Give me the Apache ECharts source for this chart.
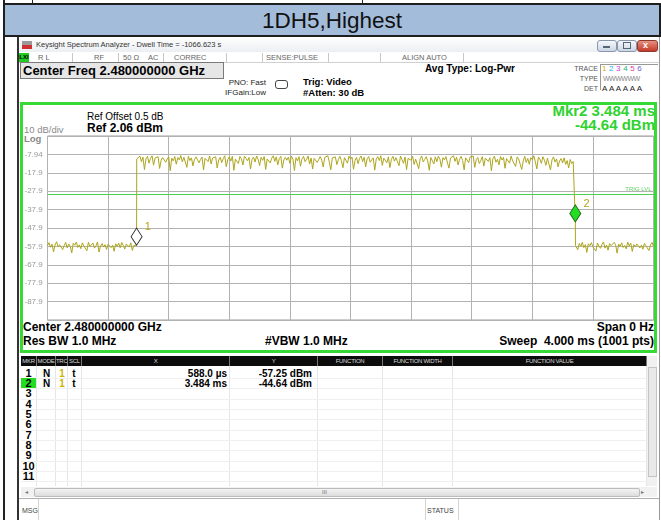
<!DOCTYPE html>
<html>
<head>
<meta charset="utf-8">
<title>1DH5,Highest</title>
<script src="https://cdn.jsdelivr.net/npm/echarts@6.0.0/dist/echarts.min.js"></script>
<style>
  html, body { margin: 0; padding: 0; }
  body { width: 661px; height: 520px; overflow: hidden; position: relative; background: #fff;
         font-family: "Liberation Sans", Arial, sans-serif; color: #000; }
  .a { position: absolute; white-space: nowrap; }
  .b { font-weight: bold; }
  .st { position: absolute; top: 53px; font-size: 7.5px; line-height: 9px; color: #666; white-space: nowrap; }
  .sep { position: absolute; top: 53px; width: 1px; height: 9px; background: #c8c8c8; }
  .btn { position: absolute; top: 40px; width: 18px; height: 10px; border: 1px solid #8797ad; border-radius: 3px;
         background: linear-gradient(#f6f8fb, #ccd6e3); }
  .fr { position: absolute; white-space: nowrap; font-weight: bold; font-size: 12px; line-height: 13px; }
  #chart { position: absolute; left: 0; top: 0; width: 661px; height: 520px; z-index: 5; pointer-events: none; }
</style>
</head>
<body>
<!-- outer frame and title band -->
<div class="a" style="left:3px;top:0;width:2px;height:520px;background:#222"></div>
<div class="a" style="left:32px;top:0;width:1px;height:4px;background:#222"></div>
<div class="a" style="left:362px;top:0;width:1px;height:4px;background:#222"></div>
<div class="a" style="left:3px;top:3px;width:654px;height:30px;background:#a3bcda;border:2px solid #1e1e1e;font-size:22.5px;line-height:31px;text-align:center;color:#111">1DH5,Highest</div>

<!-- analyzer window -->
<div class="a" style="left:17px;top:37px;width:2px;height:483px;background:#333"></div>
<div class="a" style="left:659px;top:37px;width:1px;height:483px;background:#999"></div>
<div class="a" style="left:19px;top:38px;width:640px;height:14px;background:linear-gradient(#fdfdfd,#eceff3)"></div>
<div class="a" style="left:22px;top:41px;width:10px;height:8px;background:linear-gradient(#9a9a9a 0,#9a9a9a 55%,#d03030 55%,#d03030 100%)"></div>
<div class="a" style="left:36px;top:40px;font-size:7.5px;line-height:10px;color:#333">Keysight Spectrum Analyzer - Dwell Time = -1066.623 s</div>
<div class="btn" style="left:597px"></div>
<div class="a" style="left:603px;top:46px;width:7px;height:2px;background:#55657a"></div>
<div class="btn" style="left:617px"></div>
<div class="a" style="left:623px;top:42px;width:6px;height:5px;border:1px solid #55657a"></div>
<div class="btn" style="left:637px;width:19px;border-color:#8a3a30;background:linear-gradient(#e89080,#c43a28)"></div>
<div class="a" style="left:643px;top:39px;font-size:9px;line-height:12px;color:#fff;font-weight:bold">x</div>

<!-- settings status row -->
<div class="a" style="left:19px;top:53px;width:10px;height:9px;background:#22cc22;font-size:6px;line-height:9px;font-weight:bold;text-align:center">LXI</div>
<div class="st" style="left:38px">R L</div>
<div class="sep" style="left:72px"></div>
<div class="st" style="left:94px">RF</div>
<div class="sep" style="left:118px"></div>
<div class="st" style="left:123px">50 &Omega;</div>
<div class="st" style="left:148px">AC</div>
<div class="sep" style="left:163px"></div>
<div class="st" style="left:174px">CORREC</div>
<div class="sep" style="left:226px"></div>
<div class="sep" style="left:262px"></div>
<div class="st" style="left:266px">SENSE:PULSE</div>
<div class="sep" style="left:328px"></div>
<div class="sep" style="left:380px"></div>
<div class="st" style="left:402px">ALIGN AUTO</div>
<div class="sep" style="left:463px"></div>
<div class="a" style="left:19px;top:62px;width:640px;height:1px;background:#d0d0d0"></div>

<!-- measurement settings -->
<div class="a" style="left:20px;top:62px;width:200px;height:15px;background:#e6e6e6;border:1px solid #7a7a7a;font-size:13px;line-height:16px;font-weight:bold;padding-left:2px;box-sizing:content-box">Center Freq 2.480000000 GHz</div>
<div class="a" style="left:224px;top:78px;width:42px;font-size:8px;line-height:10px;text-align:right;color:#222">PNO: Fast</div>
<div class="a" style="left:222px;top:88px;width:44px;font-size:8px;line-height:10px;text-align:right;color:#222">IFGain:Low</div>
<div class="a" style="left:275px;top:80px;width:11px;height:7px;border:1px solid #444;border-radius:3px"></div>
<div class="a" style="left:303px;top:76px;font-size:9.5px;line-height:11px;font-weight:bold">Trig: Video</div>
<div class="a" style="left:303px;top:87px;font-size:9.5px;line-height:11px;font-weight:bold">#Atten: 30 dB</div>
<div class="a" style="left:425px;top:63px;font-size:10px;line-height:11px;font-weight:bold">Avg Type: Log-Pwr</div>
<div class="a" style="left:560px;top:64px;width:38px;font-size:7px;line-height:9px;text-align:right;color:#555">TRACE</div>
<div class="a" style="left:560px;top:74px;width:38px;font-size:7px;line-height:9px;text-align:right;color:#555">TYPE</div>
<div class="a" style="left:560px;top:84px;width:38px;font-size:7px;line-height:9px;text-align:right;color:#555">DET</div>
<div class="a" style="left:600px;top:64px;width:57px;height:25px;border-left:1px solid #999;border-top:1px solid #999"></div>
<div id="traceNums" class="a" style="left:602px;top:64px;font-size:8px;line-height:9px"></div>
<div class="a" style="left:603px;top:74px;font-size:7px;line-height:9px;color:#888;letter-spacing:-0.5px">WWWWWW</div>
<div class="a" style="left:602px;top:84px;font-size:8px;line-height:9px;color:#222;letter-spacing:1.6px">AAAAAA</div>

<!-- green display frame -->
<div class="a" style="left:20px;top:102px;width:631px;height:245px;border:3px solid #36d936"></div>
<div class="a" style="left:87px;top:111px;font-size:10px;line-height:11px">Ref Offset 0.5 dB</div>
<div class="fr" style="left:87px;top:122px">Ref 2.06 dBm</div>
<div class="a" style="left:24px;top:125px;font-size:9.5px;line-height:10px;color:#8a8a8a">10 dB/div</div>
<div class="a" style="left:24px;top:134px;font-size:9.5px;line-height:9px;color:#8a8a8a;font-weight:bold">Log</div>
<div class="fr" style="right:6px;top:103px;font-size:15px;line-height:15px;color:#2fd22f;text-align:right">Mkr2 3.484 ms</div>
<div class="fr" style="right:6px;top:117px;font-size:15px;line-height:15px;color:#2fd22f;text-align:right">-44.64 dBm</div>
<div class="fr" style="left:23px;top:321px">Center 2.480000000 GHz</div>
<div class="fr" style="left:23px;top:335px">Res BW 1.0 MHz</div>
<div class="fr" style="left:265px;top:335px">#VBW 1.0 MHz</div>
<div class="fr" style="right:7px;top:321px">Span 0 Hz</div>
<div class="fr" style="right:7px;top:335px">Sweep&nbsp; 4.000 ms (1001 pts)</div>

<!-- marker table -->
<div id="table"></div>
<div class="a" style="left:647px;top:356px;width:10px;height:130px;background:#f1f1f1"></div>
<div class="a" style="left:648px;top:367px;width:7px;height:108px;background:#e9e9e9;border:1px solid #c4c4c4"></div>
<div class="a" style="left:21px;top:487px;width:636px;height:10px;background:#f1f1f1"></div>
<div class="a" style="left:34px;top:488px;width:604px;height:7px;background:linear-gradient(#f4f4f4,#dcdcdc);border:1px solid #bcbcbc;border-radius:2px"></div>
<div class="a" style="left:322px;top:487px;font-size:6px;line-height:10px;color:#777">III</div>
<div class="a" style="left:25px;top:487px;font-size:6px;line-height:10px;color:#777">&#9666;</div>
<div class="a" style="left:641px;top:487px;font-size:6px;line-height:10px;color:#777">&#9656;</div>
<div class="a" style="left:19px;top:498px;width:640px;height:1px;background:#b0b0b0"></div>
<div class="a" style="left:38px;top:499px;width:1px;height:21px;background:#d4d4d4"></div>
<div class="a" style="left:425px;top:499px;width:1px;height:21px;background:#d4d4d4"></div>
<div class="a" style="left:458px;top:499px;width:1px;height:21px;background:#d4d4d4"></div>
<div class="a" style="left:22px;top:506px;font-size:7px;line-height:9px;color:#444">MSG</div>
<div class="a" style="left:427px;top:506px;font-size:7px;line-height:9px;color:#444">STATUS</div>

<div id="chart"></div>
<script>
// Sweep: 0 .. 4 ms, trace every 0.01 ms (dBm)
const REF_LEVEL = 2.06
const SWEEP_MS = 4
const STEP_MS = 0.01
const TRIG_LEVEL = -29.4

// 0.00 .. 0.58 ms
const lowBefore = [
  -57.6, -55.9, -58.4, -56.7, -60.9, -57.2, -55.4, -58.1, -57.0, -56.3,
  -59.7, -57.5, -55.8, -58.8, -56.6, -57.9, -61.5, -56.2, -57.3, -55.6,
  -58.5, -57.1, -59.2, -56.0, -57.7, -56.9, -60.3, -55.7, -58.0, -57.4,
  -56.1, -58.9, -57.6, -55.5, -61.0, -57.8, -56.4, -58.3, -57.0, -59.6,
  -56.8, -55.9, -58.6, -57.3, -60.6, -56.5, -57.9, -56.2, -58.7, -55.8,
  -57.5, -59.4, -56.7, -57.2, -58.2, -56.0, -60.1, -57.4, -56.6,
]
// 0.59 .. 3.48 ms
const burst = [
  -9.8, -10.6, -8.9, -11.9, -9.4, -16.2, -10.3, -9.0, -12.7, -10.1,
  -8.7, -13.8, -9.9, -10.5, -9.2, -15.6, -11.1, -9.6, -8.8, -12.2,
  -10.4, -9.3, -16.8, -10.0, -11.5, -9.1, -13.3, -9.7, -10.9, -8.6,
  -12.0, -9.5, -10.2, -15.0, -9.0, -11.3, -9.8, -14.2, -10.6, -9.3,
  -8.9, -12.5, -10.7, -9.4, -16.4, -10.1, -9.6, -11.8, -8.8, -13.1,
  -9.9, -10.4, -9.2, -15.3, -11.0, -9.5, -12.4, -10.2, -8.7, -14.6,
  -10.8, -9.3, -11.6, -9.0, -16.6, -10.5, -9.7, -12.9, -9.1, -10.3,
  -13.7, -8.9, -10.0, -11.4, -9.6, -15.8, -10.7, -9.4, -12.1, -8.8,
  -10.6, -14.0, -9.5, -11.2, -9.1, -16.1, -10.4, -9.8, -12.6, -10.0,
  -8.7, -11.7, -9.3, -13.6, -10.2, -9.0, -15.4, -10.9, -9.6, -11.1,
  -9.4, -12.8, -8.9, -10.5, -16.7, -9.7, -11.5, -9.2, -14.4, -10.3,
  -9.0, -11.9, -10.6, -8.8, -13.2, -9.9, -15.9, -10.1, -9.5, -12.3,
  -10.8, -9.1, -11.0, -14.8, -9.6, -10.4, -8.7, -12.0, -16.3, -9.8,
  -10.2, -9.3, -13.5, -10.7, -9.0, -11.4, -15.2, -9.7, -10.0, -12.7,
  -8.9, -10.5, -9.4, -16.0, -11.2, -9.6, -13.0, -10.1, -8.8, -11.8,
  -9.5, -14.7, -10.3, -9.1, -12.2, -10.9, -9.8, -16.5, -10.4, -9.2,
  -11.3, -8.7, -13.9, -10.0, -9.6, -12.5, -9.3, -15.1, -10.6, -9.0,
  -11.6, -9.7, -10.2, -14.1, -8.9, -10.8, -12.8, -9.4, -16.2, -10.1,
  -9.5, -11.1, -9.0, -13.4, -10.5, -9.8, -15.7, -10.3, -8.8, -12.0,
  -10.7, -9.2, -11.5, -16.6, -9.6, -10.0, -13.1, -9.3, -11.9, -8.9,
  -10.4, -14.9, -9.7, -10.9, -9.1, -12.6, -15.4, -9.9, -10.2, -8.7,
  -11.7, -9.5, -13.7, -10.6, -9.0, -11.2, -16.3, -9.8, -10.5, -12.4,
  -9.3, -10.1, -8.8, -15.0, -10.8, -9.6, -12.9, -11.3, -9.2, -14.3,
  -10.0, -9.4, -11.8, -9.7, -16.8, -10.3, -8.9, -12.2, -10.6, -13.6,
  -9.1, -11.0, -9.5, -15.5, -10.2, -9.8, -12.7, -8.8, -11.4, -10.7,
  -14.5, -9.3, -10.4, -9.6, -16.1, -11.6, -9.0, -12.3, -10.1, -13.3,
  -9.7, -10.8, -8.7, -11.9, -15.8, -9.4, -10.5, -12.8, -9.2, -11.1,
  -13.9, -10.0, -9.6, -16.4, -10.9, -9.3, -12.1, -10.4, -14.7, -11.5,
  -10.2, -12.6, -9.8, -13.4, -11.3, -15.3, -10.7, -12.9, -11.8, -12.5,
]
// 3.49 .. 4.00 ms
const lowAfter = [
  -57.4, -59.8, -56.3, -57.9, -55.7, -58.6, -57.0, -61.2, -56.5, -57.6,
  -55.9, -58.2, -57.3, -60.5, -56.1, -57.8, -59.0, -56.8, -55.5, -58.9,
  -57.2, -60.0, -56.4, -57.5, -58.3, -55.8, -57.1, -61.6, -56.7, -57.9,
  -56.0, -58.5, -57.4, -59.3, -55.6, -57.7, -56.2, -60.7, -57.0, -58.1,
  -56.6, -55.9, -58.8, -57.3, -59.5, -56.3, -57.6, -56.9, -60.2, -57.2,
  -55.8, -58.0,
]
// [ms, dBm] points on the rising and falling edges
const edgePoints = [[0.588, -57.25], [0.589, -10.4], [3.483, -12.8], [3.484, -44.64], [3.485, -57.4]]

const yTickLabels = ['-7.94', '-17.9', '-27.9', '-37.9', '-47.9', '-57.9', '-67.9', '-77.9', '-87.9']

const markerNums = [1, 2]
const markerTimes = [0.588, 3.484]
const markerLevels = [-57.25, -44.64]
const markerX = ['588.0 µs', '3.484 ms']
const markerY = ['-57.25 dBm', '-44.64 dBm']

const tableHeads = ['MKR', 'MODE', 'TRC', 'SCL', 'X', 'Y', 'FUNCTION', 'FUNCTION WIDTH', 'FUNCTION VALUE']
const colEdges = [21, 37, 56, 68, 82, 230, 318, 383, 453, 647]
const traceColors = ['#d9a800', '#12b5d8', '#c63fd0', '#1fb070', '#e0409c', '#6a5ee0']

// trace numbers in the corner
document.getElementById('traceNums').innerHTML = traceColors
  .map((c, i) => `<span style="color:${c};margin-right:2.6px">${i + 1}</span>`).join('')

// marker table
;(function buildTable() {
  let html = ''
  const rowTop = 367.5, rowH = 10.35
  for (let i = 0; i < tableHeads.length; i++) {
    const l = colEdges[i], w = colEdges[i + 1] - l
    html += `<div class="a" style="left:${l}px;top:356px;width:${w - 1}px;height:10px;overflow:hidden;background:#0c0c0c;color:#d8d8d8;font-size:6px;letter-spacing:-0.3px;line-height:10px;text-align:center">${tableHeads[i]}</div>`
    html += `<div class="a" style="left:${l + w - 1}px;top:356px;width:1px;height:10px;background:#777"></div>`
    html += `<div class="a" style="left:${l + w - 1}px;top:366px;width:1px;height:120px;background:#e6e6e6"></div>`
  }
  for (let r = 0; r < 11; r++) {
    const top = rowTop + r * rowH
    html += `<div class="a" style="left:21px;top:${(top + rowH).toFixed(1)}px;width:626px;height:1px;background:#efefef"></div>`
    const bg = r === 1 ? 'background:#22dd22;' : ''
    html += `<div class="a b" style="left:21px;top:${top.toFixed(1)}px;width:15px;height:${rowH}px;${bg}font-size:11px;line-height:11px;text-align:center">${r + 1}</div>`
  }
  markerNums.forEach((n, i) => {
    const top = (rowTop + i * rowH).toFixed(1)
    html += `<div class="a b" style="left:37px;top:${top}px;width:19px;font-size:10px;line-height:11px;text-align:center">N</div>`
    html += `<div class="a b" style="left:56px;top:${top}px;width:12px;font-size:10px;line-height:11px;text-align:center;color:#c8b400">1</div>`
    html += `<div class="a b" style="left:68px;top:${top}px;width:12px;font-size:10px;line-height:11px;text-align:center">t</div>`
    html += `<div class="a b" style="left:82px;top:${top}px;width:145px;font-size:10px;line-height:11px;text-align:right">${markerX[i]}</div>`
    html += `<div class="a b" style="left:230px;top:${top}px;width:82px;font-size:10px;line-height:11px;text-align:right">${markerY[i]}</div>`
  })
  document.getElementById('table').innerHTML = html
})()

// assemble trace [ms, dBm]
const samples = lowBefore.concat(burst, lowAfter)
const trace = samples.map((v, i) => [i * STEP_MS, v]).concat(edgePoints)
trace.sort((p, q) => p[0] - q[0])

const chart = echarts.init(document.getElementById('chart'))
chart.setOption({
  animation: false,
  grid: { left: 47.5, top: 136, width: 606, height: 184, show: true, borderColor: '#9c9c9c', borderWidth: 1 },
  xAxis: {
    type: 'value', min: 0, max: SWEEP_MS, interval: 0.4,
    axisLine: { show: false }, axisTick: { show: false }, axisLabel: { show: false },
    splitLine: { lineStyle: { color: '#b2b2b2', width: 1 } },
  },
  yAxis: [
    {
      // 10 dB/div divisions, labelled from the reference level down
      type: 'value', min: 0, max: 10, interval: 1,
      axisLine: { show: false }, axisTick: { show: false },
      axisLabel: {
        margin: 23, align: 'left', fontSize: 8, color: '#999',
        fontFamily: 'Liberation Sans, Arial, sans-serif',
        formatter: (v) => (v >= 1 && v <= 9 ? yTickLabels[9 - v] : ''),
      },
      splitLine: { lineStyle: { color: '#b2b2b2', width: 1 } },
    },
    { type: 'value', min: REF_LEVEL - 100, max: REF_LEVEL, show: false },
  ],
  series: [
    {
      name: 'Trace 1',
      type: 'line',
      yAxisIndex: 1,
      data: trace,
      symbol: 'none',
      sampling: null,
      lineStyle: { color: '#ada51c', width: 1 },
      markLine: {
        silent: true,
        symbol: 'none',
        data: [{ yAxis: TRIG_LEVEL }],
        lineStyle: { type: 'solid', color: '#4fd04f', width: 1 },
        label: { formatter: 'TRIG LVL', position: 'insideEndTop', fontSize: 6, color: '#66cc66', distance: 2 },
      },
      markPoint: {
        silent: true,
        data: markerNums.map((n, i) => ({
          coord: [markerTimes[i], markerLevels[i]],
          symbol: 'diamond',
          symbolSize: [11, 17],
          symbolOffset: [0, '-50%'],
          itemStyle: {
            color: i === 1 ? '#22dd22' : '#ffffff',
            borderColor: i === 1 ? '#1d6b1d' : '#333',
            borderWidth: 1,
          },
          label: { show: true, formatter: String(n), position: [14, -6], fontSize: 11, color: '#b7a51a' },
        })),
      },
    },
  ],
})
</script>
</body>
</html>
